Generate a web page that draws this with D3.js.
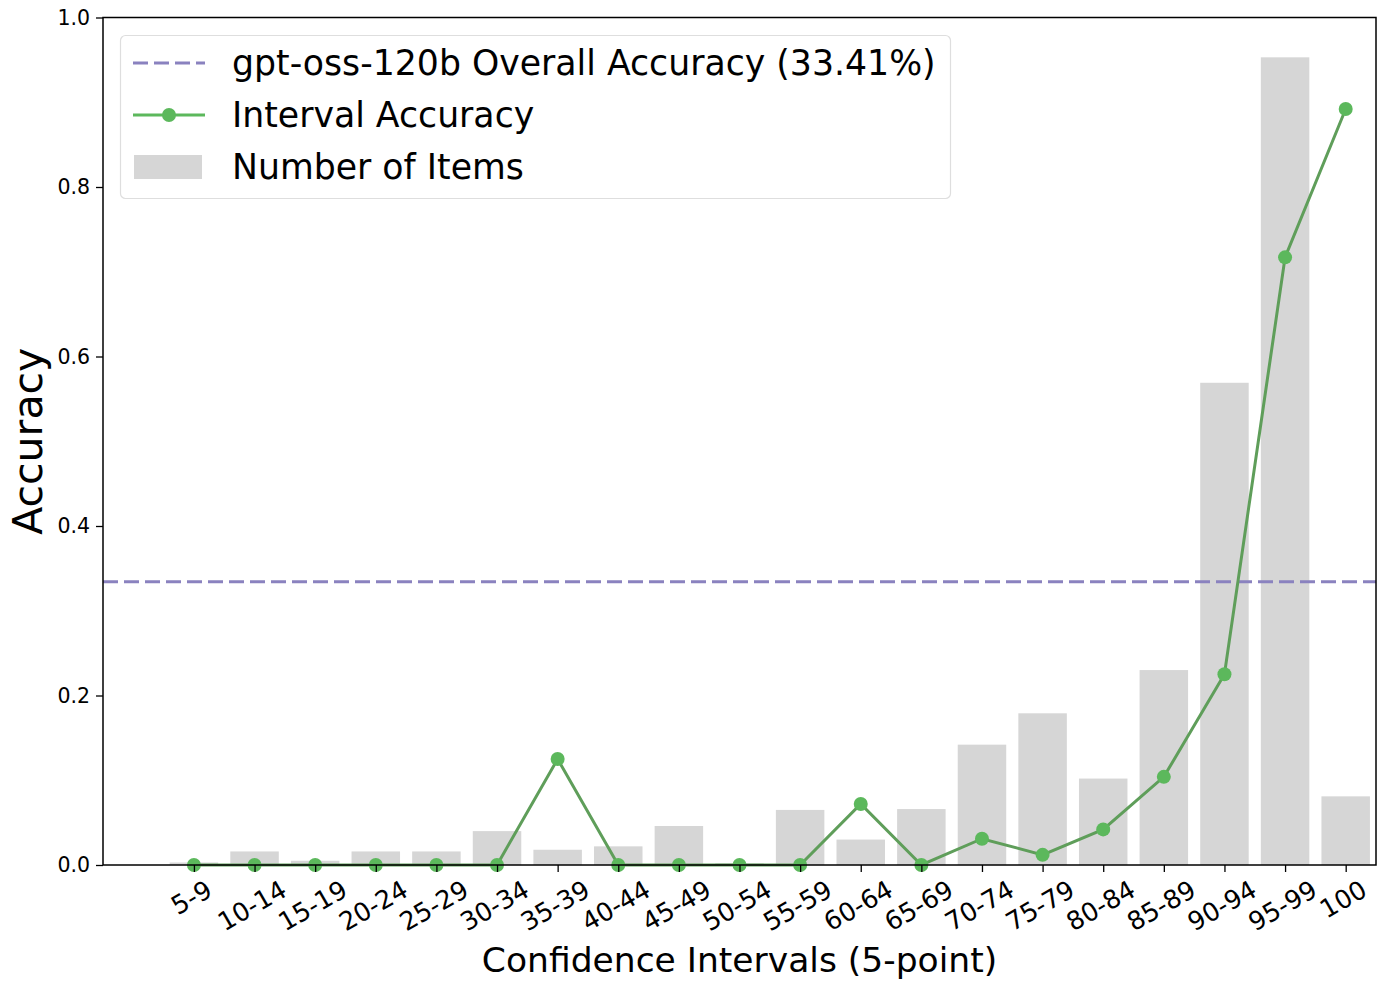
<!DOCTYPE html>
<html>
<head>
<meta charset="utf-8">
<script src="https://cdn.jsdelivr.net/npm/d3@7"></script>
<style>
  body { margin: 0; background: #fff; }
  text { font-family: "DejaVu Sans", sans-serif; fill: #000; }
</style>
</head>
<body>
<script>

// Data ************************************************************************

var intervals = ["5-9","10-14","15-19","20-24","25-29","30-34","35-39","40-44","45-49","50-54",
                 "55-59","60-64","65-69","70-74","75-79","80-84","85-89","90-94","95-99","100"];

var intervalAccuracy = [0, 0, 0, 0, 0, 0, 0.125, 0, 0, 0,
                        0, 0.072, 0, 0.031, 0.012, 0.042, 0.104, 0.225, 0.717, 0.892];

var itemsScaled = [0.003, 0.016, 0.005, 0.016, 0.016, 0.040, 0.018, 0.022, 0.046, 0.002,
                   0.065, 0.030, 0.066, 0.142, 0.179, 0.102, 0.230, 0.569, 0.953, 0.081];

var overallAccuracy = 0.3341;
var yTicks = [0, 0.2, 0.4, 0.6, 0.8, 1.0];

var legendLabels = ["gpt-oss-120b Overall Accuracy (33.41%)", "Interval Accuracy", "Number of Items"];


// Settings ********************************************************************

var W = 1385, H = 989;
var plot = { left: 103, right: 1376, top: 17.5, bottom: 865 };

var colors = {
  bar: "#d6d6d6",
  line: "#5f9e5a",
  marker: "#5cb85c",
  overall: "#8a82bf"
};


// Initialization **************************************************************

var svg = d3.select("body").append("svg")
  .attr("width", W)
  .attr("height", H);

var x = d3.scaleLinear()
  .domain([-1.5, intervals.length - 0.5])
  .range([plot.left, plot.right]);

var y = d3.scaleLinear()
  .domain([0, 1])
  .range([plot.bottom, plot.top]);

var step = x(1) - x(0);
var barW = step * 0.8;


// Bars ************************************************************************

svg.append("g").selectAll("rect")
  .data(itemsScaled)
  .join("rect")
  .attr("x", (d, i) => x(i) - barW / 2)
  .attr("y", d => y(d))
  .attr("width", barW)
  .attr("height", d => y(0) - y(d))
  .attr("fill", colors.bar);

// overall accuracy line
svg.append("line")
  .attr("x1", plot.left)
  .attr("x2", plot.right)
  .attr("y1", y(overallAccuracy))
  .attr("y2", y(overallAccuracy))
  .attr("stroke", colors.overall)
  .attr("stroke-width", 3)
  .attr("stroke-dasharray", "15,6");

// interval accuracy line
var lineGen = d3.line()
  .x((d, i) => x(i))
  .y(d => y(d));

svg.append("path")
  .datum(intervalAccuracy)
  .attr("d", lineGen)
  .attr("fill", "none")
  .attr("stroke", colors.line)
  .attr("stroke-width", 3);

svg.append("g").selectAll("circle")
  .data(intervalAccuracy)
  .join("circle")
  .attr("cx", (d, i) => x(i))
  .attr("cy", d => y(d))
  .attr("r", 7)
  .attr("fill", colors.marker);


// Axes ************************************************************************

var yAxis = d3.axisLeft(y)
  .tickValues(yTicks)
  .tickFormat(d3.format(".1f"))
  .tickSize(7)
  .tickPadding(6);

var gy = svg.append("g")
  .attr("transform", "translate(" + plot.left + ",0)")
  .call(yAxis);
gy.select(".domain").remove();
gy.selectAll("line").attr("stroke-width", 1.3);
gy.selectAll("text").attr("font-size", 20.5).attr("font-family", "DejaVu Sans");

var xAxis = d3.axisBottom(x)
  .tickValues(d3.range(intervals.length))
  .tickFormat(i => intervals[i])
  .tickSize(7);

var gx = svg.append("g")
  .attr("transform", "translate(0," + plot.bottom + ")")
  .call(xAxis);
gx.select(".domain").remove();
gx.selectAll("line").attr("stroke-width", 1.3);

// rotate tick labels 30deg around their centre, bbox top under the tick
var xFont = 25.5;
gx.selectAll(".tick text")
  .attr("font-size", xFont)
  .attr("font-family", "DejaVu Sans")
  .attr("text-anchor", "middle")
  .attr("dy", "0.35em")
  .attr("y", 0)
  .each(function() {
    var t = d3.select(this);
    var w = this.getComputedTextLength();
    var h = xFont;
    var cy = 11 + (w / 2) * 0.5 + (h / 2) * 0.866;
    t.attr("transform", "translate(-3," + cy + ") rotate(-30)");
  });

// frame
svg.append("rect")
  .attr("x", plot.left)
  .attr("y", plot.top)
  .attr("width", plot.right - plot.left)
  .attr("height", plot.bottom - plot.top)
  .attr("fill", "none")
  .attr("stroke", "#000")
  .attr("stroke-width", 1.5);

// axis titles
svg.append("text")
  .attr("x", (plot.left + plot.right) / 2)
  .attr("y", 972)
  .attr("text-anchor", "middle")
  .attr("font-size", 34.5)
  .text("Confidence Intervals (5-point)");

svg.append("text")
  .attr("transform", "translate(42," + ((plot.top + plot.bottom) / 2) + ") rotate(-90)")
  .attr("text-anchor", "middle")
  .attr("font-size", 41)
  .text("Accuracy");


// Legend **********************************************************************

var legend = svg.append("g");

legend.append("rect")
  .attr("x", 120.5)
  .attr("y", 35.5)
  .attr("width", 830)
  .attr("height", 163)
  .attr("rx", 5)
  .attr("fill", "#fff")
  .attr("fill-opacity", 0.85)
  .attr("stroke", "#dedede")
  .attr("stroke-width", 1.2);

var rowY = [63, 115, 167];

legend.append("line")
  .attr("x1", 133).attr("x2", 205)
  .attr("y1", rowY[0]).attr("y2", rowY[0])
  .attr("stroke", colors.overall)
  .attr("stroke-width", 3)
  .attr("stroke-dasharray", "15,6");

legend.append("line")
  .attr("x1", 133).attr("x2", 205)
  .attr("y1", rowY[1]).attr("y2", rowY[1])
  .attr("stroke", colors.marker)
  .attr("stroke-width", 3);

legend.append("circle")
  .attr("cx", 169).attr("cy", rowY[1])
  .attr("r", 7)
  .attr("fill", colors.marker);

legend.append("rect")
  .attr("x", 134).attr("y", rowY[2] - 12)
  .attr("width", 68).attr("height", 24)
  .attr("fill", colors.bar);

legend.selectAll("text.lbl")
  .data(legendLabels)
  .join("text")
  .attr("class", "lbl")
  .attr("x", 232)
  .attr("y", (d, i) => rowY[i])
  .attr("dy", "0.36em")
  .attr("font-size", 34.7)
  .text(d => d);

</script>
</body>
</html>
